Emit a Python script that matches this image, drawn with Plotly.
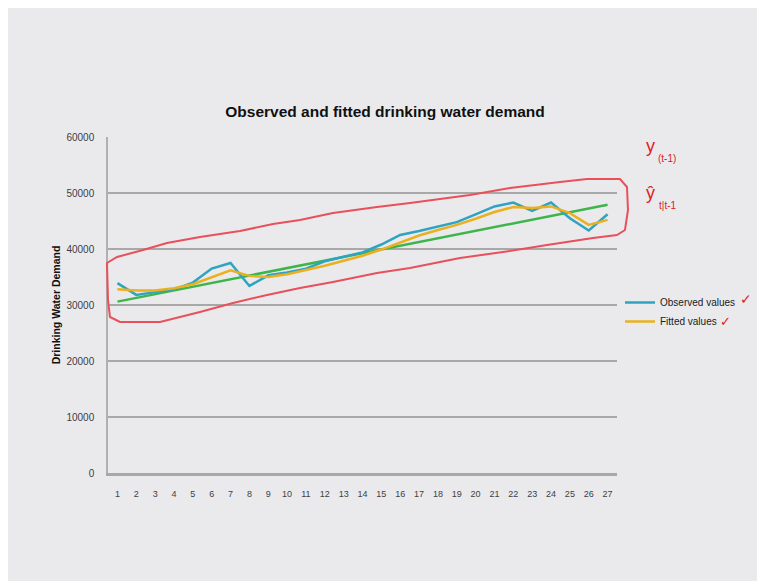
import plotly.graph_objects as go

periods = list(range(1, 28))
tick_labels = [str(p) for p in periods]

observed_values = [33900, 31800, 32300, 32800, 34000, 36500, 37500, 33400, 35300,
                   35800, 36500, 37800, 38600, 39400, 40800, 42500, 43200, 44000,
                   44800, 46200, 47600, 48300, 46800, 48300, 45500, 43300, 46200]
fitted_values = [32800, 32600, 32600, 33000, 33700, 35000, 36200, 35200, 35000,
                 35500, 36200, 37000, 37900, 38800, 39900, 41200, 42400, 43400,
                 44300, 45400, 46600, 47500, 47300, 47600, 46400, 44300, 45200]
trend_x = [1, 27]
trend_values = [30600, 47900]

y_ticks = [0, 10000, 20000, 30000, 40000, 50000, 60000]

W, H = 765, 581
OFF = 8  # page margin of the browser
L, R, T, B = 100, 609, 129, 465  # plot area in figure pixels

def px(x):
    return (x - OFF - L) / (R - L)

def py(y):
    return (B - (y - OFF)) / (B - T)

# hand-drawn red loop (screen pixel outline)
loop_pts = [(107, 263), (117, 257), (143, 250), (167, 243), (200, 237), (240, 231),
            (273, 224), (300, 220), (333, 213), (377, 207), (410, 203), (470, 195),
            (510, 188), (560, 182), (587, 179), (620, 179), (627, 187), (628, 210),
            (625, 230), (617, 235), (593, 238), (547, 245), (503, 252), (460, 258),
            (410, 268), (377, 273), (333, 282), (300, 288), (267, 295), (233, 303),
            (200, 312), (160, 322), (120, 322), (110, 317), (108, 300), (107, 263)]
path = "M " + " L ".join(f"{px(x):.4f},{py(y):.4f}" for x, y in loop_pts) + " Z"

fig = go.Figure()
fig.add_trace(go.Scatter(x=trend_x, y=trend_values, mode="lines",
                         line=dict(color="#3db54a", width=2.5), showlegend=False,
                         hoverinfo="skip"))
fig.add_trace(go.Scatter(x=periods, y=observed_values, mode="lines", name="Observed values",
                         line=dict(color="#2fa3c2", width=2.5)))
fig.add_trace(go.Scatter(x=periods, y=fitted_values, mode="lines", name="Fitted values",
                         line=dict(color="#eab01e", width=2.5)))

fig.add_shape(type="path", xref="paper", yref="paper", path=path,
              line=dict(color="#e8505a", width=2))

annotations = [
    dict(x=px(657), y=py(134), text="y", font=dict(size=18, color="#e02020")),
    dict(x=px(678), y=py(151), text="(t-1)", font=dict(size=10, color="#e02020")),
    dict(x=px(657), y=py(181), text="ŷ", font=dict(size=18, color="#e02020")),
    dict(x=px(678), y=py(198), text="t|t-1", font=dict(size=10, color="#e02020")),
    dict(x=px(754), y=py(299), text="✓", font=dict(size=14, color="#e02020")),
    dict(x=px(733), y=py(321), text="✓", font=dict(size=13, color="#e02020")),
]
for a in annotations:
    a.update(xref="paper", yref="paper", showarrow=False,
             font=dict(family="Liberation Sans", **a["font"]))
fig.update_layout(annotations=annotations)

fig.update_layout(
    width=W, height=H,
    margin=dict(l=L, r=W - R, t=T, b=H - B, pad=0),
    paper_bgcolor="#eaeaed", plot_bgcolor="#eaeaed",
    font=dict(family="Liberation Sans", size=9, color="#404040"),
    title=dict(text="<b>Observed and fitted drinking water demand</b>",
               x=(385 - OFF) / W, xref="container", y=1 - (112 - OFF) / H, yref="container",
               xanchor="center", yanchor="middle",
               font=dict(size=15.5, color="#101010")),
    showlegend=True,
    legend=dict(x=px(620), y=py(288), xanchor="left", yanchor="top",
                bgcolor="rgba(0,0,0,0)", font=dict(size=10, color="#202020"),
                tracegroupgap=4),
    xaxis=dict(range=[0.5, 27.5], tickmode="array", tickvals=periods, ticktext=tick_labels,
               showgrid=False, showline=True, linecolor="#a8a8a8", linewidth=2.5,
               ticks="", zeroline=False, ticklabelstandoff=10,
               tickfont=dict(size=9, color="#404040")),
    yaxis=dict(range=[0, 60000], tickmode="array", tickvals=y_ticks,
               ticktext=[str(v) for v in y_ticks], showgrid=True, gridcolor="#a8a8a8",
               gridwidth=2, showline=True, linecolor="#b0b0b0", linewidth=1.5,
               zeroline=False, ticks="", ticklabelstandoff=10,
               title=dict(text="<b>Drinking Water Demand</b>", standoff=4,
                          font=dict(size=10.5, color="#101010")),
               tickfont=dict(size=10, color="#404040")),
)

fig.write_html("out.html")
